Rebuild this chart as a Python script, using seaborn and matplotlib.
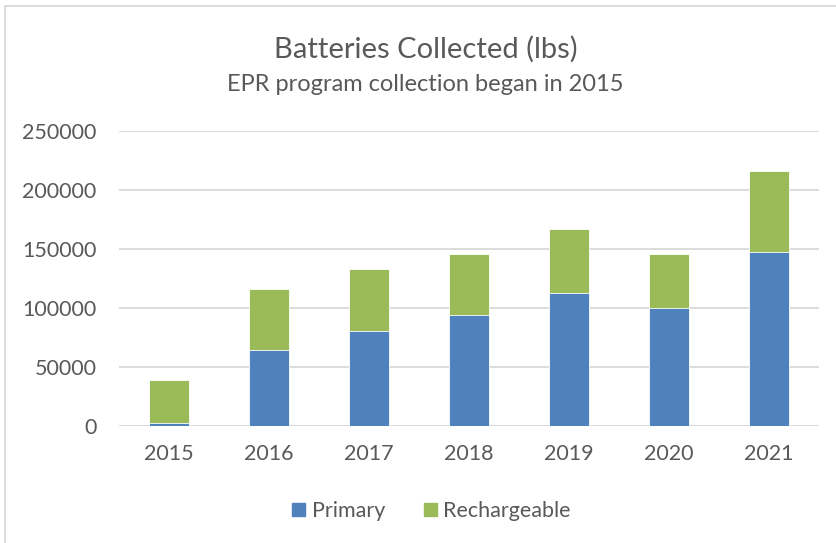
import pandas as pd
import matplotlib.pyplot as plt
import seaborn as sns
from matplotlib.patches import Patch, Rectangle

years = ["2015", "2016", "2017", "2018", "2019", "2020", "2021"]
primary = [3000, 64500, 81000, 94000, 113000, 100500, 148000]
rechargeable = [36500, 52000, 52500, 52000, 54000, 45500, 68500]

df = pd.DataFrame({"year": years, "Primary": primary, "Rechargeable": rechargeable})
df["total"] = df["Primary"] + df["Rechargeable"]

blue = "#4F81BD"
green = "#9BBB59"
text_gray = "#595959"

sns.set_theme(style="white")
plt.rcParams["font.family"] = ["Lato", "DejaVu Sans"]

fig = plt.figure(figsize=(8.37, 5.43), dpi=100)
ax = fig.add_axes([0.1416, 0.2149, 0.8363, 0.5433])

# stacked: total in green, primary in blue on top of it
sns.barplot(data=df, x="year", y="total", color=green, width=0.4,
            saturation=1, ax=ax, zorder=3, edgecolor="white", linewidth=0.6)
sns.barplot(data=df, x="year", y="Primary", color=blue, width=0.4,
            saturation=1, ax=ax, zorder=4, edgecolor="white", linewidth=0.6)

ax.set_ylim(0, 250000)
ax.set_yticks(range(0, 250001, 50000))
ax.set_xlim(-0.5, 6.5)
ax.yaxis.grid(True, color="#D9D9D9", linewidth=1.3, zorder=0)
ax.set_axisbelow(True)
for s in ax.spines.values():
    s.set_visible(False)
ax.set_xlabel("")
ax.set_ylabel("")
ax.tick_params(axis="both", colors=text_gray, labelsize=15.5, length=0)
ax.tick_params(axis="y", pad=16)
ax.tick_params(axis="x", pad=13)

fig.text(0.5085, 1 - 57.3 / 543, "Batteries Collected (lbs)", ha="center",
         va="baseline", fontsize=21, color=text_gray)
fig.text(0.5085, 1 - 91 / 543, "EPR program collection began in 2015", ha="center",
         va="baseline", fontsize=17, color=text_gray)

handles = [Patch(color=blue, label="Primary"), Patch(color=green, label="Rechargeable")]
leg = fig.legend(handles=handles, loc="center", bbox_to_anchor=(0.5155, 0.059), ncol=2,
                 frameon=False, fontsize=15.5, handlelength=0.6, handleheight=0.6,
                 handletextpad=0.3, columnspacing=1.8)
for t in leg.get_texts():
    t.set_color(text_gray)

# chart border, cut off at the right and bottom like the original
fig.patches.append(Rectangle((5 / 837, -0.1), 1.2, 1.1 - 6 / 543,
                             transform=fig.transFigure, fill=False,
                             edgecolor="#D9D9D9", linewidth=1.3))

fig.savefig("out.png", dpi=100)
